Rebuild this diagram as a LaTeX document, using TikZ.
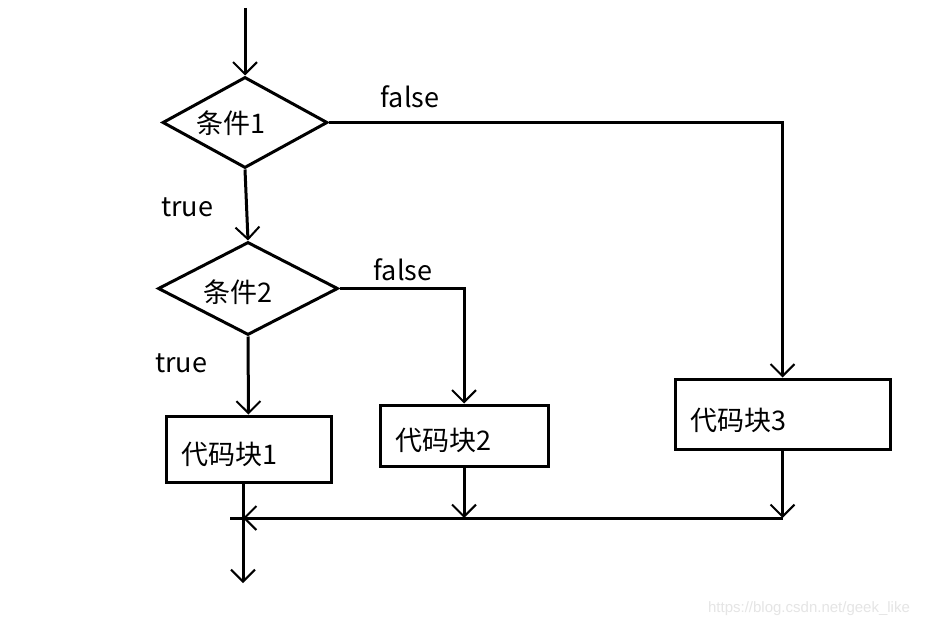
\documentclass[tikz,border=0pt]{standalone}
\usepackage{fontspec}
\setmainfont{Noto Sans CJK SC}
\newfontfamily\wmfont{Liberation Sans}
\usetikzlibrary{shapes.geometric,arrows.meta}
\begin{document}
\begin{tikzpicture}[x=1pt,y=-1pt,line width=3pt,
  arr/.style={-{Straight Barb[length=12pt,width=24pt,line width=2pt]}},
  txt/.style={font=\fontsize{27}{30}\selectfont},
  cond/.style={diamond,draw,inner sep=0pt,txt},
  blockbox/.style={draw,rectangle,inner sep=0pt,txt},
  intext/.style={txt,inner sep=0pt,anchor=west,xshift=15pt},
  lbl/.style={txt,inner sep=0pt}]
\fill[white] (0,0) rectangle (925,628);
\useasboundingbox (0,0) rectangle (925,628);
% nodes
\node[cond,minimum width=165pt,minimum height=91pt,
  label={[txt,inner sep=0pt,xshift=-14pt,yshift=-1pt]center:条件1}] (d1) at (245,122.5) {};
\node[cond,minimum width=180pt,minimum height=93pt,
  label={[txt,inner sep=0pt,xshift=-10pt,yshift=-4pt]center:条件2}] (d2) at (248,288.5) {};
\node[blockbox,minimum width=165pt,minimum height=66pt,
  label={[intext,yshift=-5pt]west:代码块1}] (b1) at (248.5,449) {};
\node[blockbox,minimum width=168pt,minimum height=61pt,
  label={[intext,yshift=-5pt]west:代码块2}] (b2) at (464,435.5) {};
\node[blockbox,minimum width=215pt,minimum height=70pt,
  label={[intext,yshift=-6pt]west:代码块3}] (b3) at (782.5,414) {};
% labels
\node[lbl] (f1) at (410,97) {false};
\node[lbl] (t1) at (187,207) {true};
\node[lbl] (f2) at (403,270) {false};
\node[lbl] (t2) at (181,363) {true};
% coordinates
\coordinate (top) at (243,8);
\coordinate (j1) at (243,518);
\coordinate (jl) at (230,518);
\coordinate (out) at (243,583);
% connectors
\draw[arr] (d1.north |- top) -- (d1.north);
\draw[arr] (d1.south) -- (d2.north);
\draw[arr] (d2.south) -- (b1.north);
\draw[arr] (d2.east) -| (b2.north);
\draw[arr] (d1.east) -| (b3.north);
\draw[arr] (b1.south -| j1) -- (out);
\draw[arr] (b2.south) -- (b2.south |- j1);
\draw[arr] (b3.south) -- (b3.south |- j1);
\draw[arr] (b3.south |- j1) -- (j1);
\draw (j1) -- (jl);
% watermark
\node[text=black!10,font=\wmfont\fontsize{15}{17}\selectfont,inner sep=0pt] (wm) at (809,609) {https://blog.csdn.net/geek\_like};
\end{tikzpicture}
\end{document}
